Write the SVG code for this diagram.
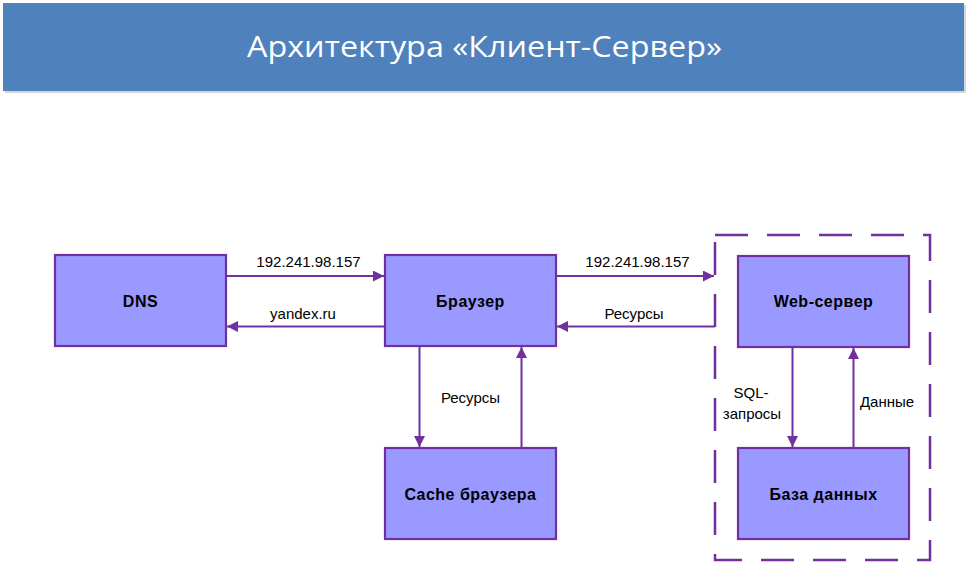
<svg xmlns="http://www.w3.org/2000/svg" width="970" height="563" viewBox="0 0 970 563">
<style>
.node{fill:#9999FF;stroke:#7030A0;stroke-width:2.2}
.nt{font-family:"Liberation Sans",Arial,sans-serif;font-weight:bold;font-size:16px;letter-spacing:0.5px;fill:#000;text-anchor:middle}
.lbl{font-family:"Liberation Sans",Arial,sans-serif;font-size:15px;fill:#000;text-anchor:middle}
.c{stroke:#7030A0;stroke-width:2;fill:none;marker-end:url(#ah)}
</style>
<defs>
<marker id="ah" viewBox="0 0 11 11" refX="11" refY="5.5" markerWidth="11" markerHeight="11" markerUnits="userSpaceOnUse" orient="auto">
<path d="M0,0 L11,5.5 L0,11 Z" fill="#7030A0"/>
</marker>
</defs>
<rect width="970" height="563" fill="#FFFFFF"/>
<g id="header">
<rect x="5" y="5" width="961" height="88" fill="#BBBBBB" opacity="0.6"/>
<rect x="3" y="3" width="961" height="88" fill="#4F81BD"/>
<text x="484.5" y="57" font-family="'Open Sans',sans-serif" font-size="29" fill="#FFFFFF" text-anchor="middle" textLength="475" lengthAdjust="spacingAndGlyphs">Архитектура «Клиент-Сервер»</text>
</g>
<g id="server-group">
<rect x="715" y="235" width="215" height="325" fill="none" stroke="#7030A0" stroke-width="2.5" stroke-dasharray="33 19"/>
</g>
<g id="dns">
<rect class="node" x="55" y="255" width="171" height="91"/>
<text class="nt" x="140.5" y="307">DNS</text>
</g>
<g id="browser">
<rect class="node" x="385" y="255" width="171" height="91"/>
<text class="nt" x="470.5" y="307">Браузер</text>
</g>
<g id="webserver">
<rect class="node" x="738" y="256" width="171" height="91"/>
<text class="nt" x="823.5" y="307">Web-сервер</text>
</g>
<g id="cache">
<rect class="node" x="385" y="448" width="171" height="91"/>
<text class="nt" x="470.5" y="500">Cache браузера</text>
</g>
<g id="db">
<rect class="node" x="738" y="448" width="171" height="91"/>
<text class="nt" x="823.5" y="500">База данных</text>
</g>
<g id="connectors">
<line class="c" x1="226" y1="276" x2="384" y2="276"/>
<line class="c" x1="385" y1="326.5" x2="227" y2="326.5"/>
<line class="c" x1="556" y1="276" x2="714" y2="276"/>
<line class="c" x1="715" y1="326.5" x2="557" y2="326.5"/>
<line class="c" x1="419.5" y1="346" x2="419.5" y2="447"/>
<line class="c" x1="521.5" y1="448" x2="521.5" y2="347"/>
<line class="c" x1="792.5" y1="347" x2="792.5" y2="447"/>
<line class="c" x1="853.5" y1="448" x2="853.5" y2="348"/>
<text class="lbl" x="308.5" y="267">192.241.98.157</text>
<text class="lbl" x="303" y="319">yandex.ru</text>
<text class="lbl" x="637.5" y="267">192.241.98.157</text>
<text class="lbl" x="634" y="319">Ресурсы</text>
<text class="lbl" x="470.5" y="403">Ресурсы</text>
<text class="lbl" x="751" y="398">SQL-</text>
<text class="lbl" x="752" y="419">запросы</text>
<text class="lbl" x="887" y="407">Данные</text>
</g>
</svg>
